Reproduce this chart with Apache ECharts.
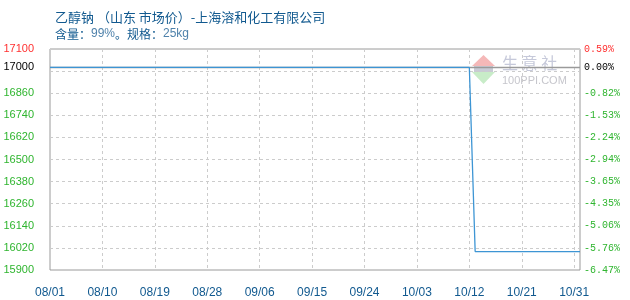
<!DOCTYPE html>
<html>
<head>
<meta charset="utf-8">
<script src="https://cdn.jsdelivr.net/npm/echarts@6/dist/echarts.min.js"></script>
<style>
  html, body { margin: 0; padding: 0; background: #fff; }
  #chart { width: 630px; height: 300px; }
</style>
</head>
<body>
<div id="chart"></div>
<script>
// Daily dates on the horizontal axis
const categories = [
  '08/01','08/02','08/03','08/04','08/05','08/06','08/07','08/08','08/09','08/10',
  '08/11','08/12','08/13','08/14','08/15','08/16','08/17','08/18','08/19','08/20',
  '08/21','08/22','08/23','08/24','08/25','08/26','08/27','08/28','08/29','08/30',
  '08/31','09/01','09/02','09/03','09/04','09/05','09/06','09/07','09/08','09/09',
  '09/10','09/11','09/12','09/13','09/14','09/15','09/16','09/17','09/18','09/19',
  '09/20','09/21','09/22','09/23','09/24','09/25','09/26','09/27','09/28','09/29',
  '09/30','10/01','10/02','10/03','10/04','10/05','10/06','10/07','10/08','10/09',
  '10/10','10/11','10/12','10/13','10/14','10/15','10/16','10/17','10/18','10/19',
  '10/20','10/21','10/22','10/23','10/24','10/25','10/26','10/27','10/28','10/29',
  '10/30','10/31'
];

// Market price (yuan/ton), one value per date
const prices = [
  17000,17000,17000,17000,17000,17000,17000,17000,17000,17000,
  17000,17000,17000,17000,17000,17000,17000,17000,17000,17000,
  17000,17000,17000,17000,17000,17000,17000,17000,17000,17000,
  17000,17000,17000,17000,17000,17000,17000,17000,17000,17000,
  17000,17000,17000,17000,17000,17000,17000,17000,17000,17000,
  17000,17000,17000,17000,17000,17000,17000,17000,17000,17000,
  17000,17000,17000,17000,17000,17000,17000,17000,17000,17000,
  17000,17000,17000,16000,16000,16000,16000,16000,16000,16000,
  16000,16000,16000,16000,16000,16000,16000,16000,16000,16000,
  16000,16000
];

// Horizontal axis tick labels (one every 9 dates)
const xTickLabels = ['08/01','08/10','08/19','08/28','09/06','09/15','09/24','10/03','10/12','10/21','10/31'];

// Price reference and vertical scale
const basePrice = 17000;
const yMin = 15900;
const yMax = 17100;
const gridValues = [15900,16020,16140,16260,16380,16500,16620,16740,16860,16980,17100];
const yLabelValues = [15900,16020,16140,16260,16380,16500,16620,16740,16860,17000,17100];

const RED = '#ff3030';
const GREEN = '#2fb52f';
const BLACK = '#000000';
const BLUE_TEXT = '#11598f';

function labelColor(v) {
  v = Number(v);
  if (v === yMax) return RED;
  if (v === basePrice) return BLACK;
  return GREEN;
}

function priceLabel(v) {
  return String(Math.round(Number(v)));
}

function pctLabel(v) {
  const p = (Number(v) - basePrice) / basePrice * 100;
  return p.toFixed(2) + '%';
}

const chart = echarts.init(document.getElementById('chart'), null, { renderer: 'canvas' });

chart.setOption({
  animation: false,
  backgroundColor: '#ffffff',
  title: {
    left: 50,
    top: 6,
    itemGap: 4,
    text: '乙醇钠 （山东 市场价）-上海溶和化工有限公司',
    textStyle: {
      fontFamily: 'Noto Sans CJK SC',
      fontSize: 13,
      fontWeight: 'normal',
      color: BLUE_TEXT
    },
    subtext: '{a|含量：}{b|99%}{a|。规格：}{b|25kg}',
    subtextStyle: {
      rich: {
        a: { fontFamily: 'Noto Sans CJK SC', fontSize: 12, color: BLUE_TEXT },
        b: { fontFamily: 'Liberation Sans', fontSize: 12, color: '#4f82ab' }
      }
    }
  },
  grid: {
    left: 50,
    right: 50,
    top: 49,
    bottom: 30,
    containLabel: false,
    show: true,
    borderColor: '#9a9a9a',
    borderWidth: 1
  },
  xAxis: {
    type: 'category',
    data: categories,
    boundaryGap: false,
    axisLine: { show: false },
    axisTick: { show: false, interval: 8 },
    axisLabel: {
      interval: 8,
      margin: 17,
      fontFamily: 'Liberation Sans',
      fontSize: 12,
      color: BLUE_TEXT,
      formatter: function (value, index) {
        return xTickLabels[Math.round(index / 9)];
      }
    },
    splitLine: {
      show: true,
      interval: 8,
      lineStyle: { color: '#cccccc', type: [3, 3], width: 1 }
    }
  },
  yAxis: [
    {
      type: 'value',
      min: yMin,
      max: yMax,
      position: 'left',
      axisLine: { show: false },
      axisTick: { show: false, customValues: gridValues },
      axisLabel: {
        customValues: yLabelValues,
        margin: 16,
        fontFamily: 'Liberation Sans',
        fontSize: 11,
        color: labelColor,
        formatter: priceLabel
      },
      splitLine: {
        show: true,
        lineStyle: { color: '#cccccc', type: [3, 3], width: 1 }
      }
    },
    {
      type: 'value',
      min: yMin,
      max: yMax,
      position: 'right',
      axisLine: { show: false },
      axisTick: { show: false, customValues: gridValues },
      axisLabel: {
        customValues: yLabelValues,
        margin: 4,
        fontFamily: 'Liberation Mono',
        fontSize: 10,
        color: labelColor,
        formatter: pctLabel
      },
      splitLine: { show: false }
    }
  ],
  graphic: [
    {
      type: 'group',
      silent: true,
      z: 1,
      children: [
        { type: 'polygon', shape: { points: [[472, 66], [495, 66], [483.5, 55]] }, style: { fill: '#f5b8b8' } },
        { type: 'polygon', shape: { points: [[472, 72], [495, 72], [483.5, 84]] }, style: { fill: '#c8ecc8' } },
        { type: 'rect', shape: { x: 474, y: 66, width: 19, height: 6 }, style: { fill: '#c9cbd6' } },
        { type: 'text', x: 502, y: 63, style: { text: '生 意 社', font: '16px "Noto Sans CJK SC"', fill: '#c6c9da', verticalAlign: 'middle' } },
        { type: 'text', x: 502, y: 81, style: { text: '100PPI.COM', font: '11px "Liberation Sans"', fill: '#c6c6cc', verticalAlign: 'middle' } }
      ]
    }
  ],
  series: [
    {
      type: 'line',
      yAxisIndex: 0,
      data: prices,
      showSymbol: false,
      symbol: 'none',
      z: 3,
      lineStyle: { color: '#3d95d4', width: 1.3 },
      markLine: {
        silent: true,
        symbol: 'none',
        label: { show: false },
        lineStyle: { color: '#9a9a9a', type: 'solid', width: 1.3 },
        z: 2,
        data: [{ yAxis: basePrice }]
      }
    }
  ]
});
</script>
</body>
</html>
